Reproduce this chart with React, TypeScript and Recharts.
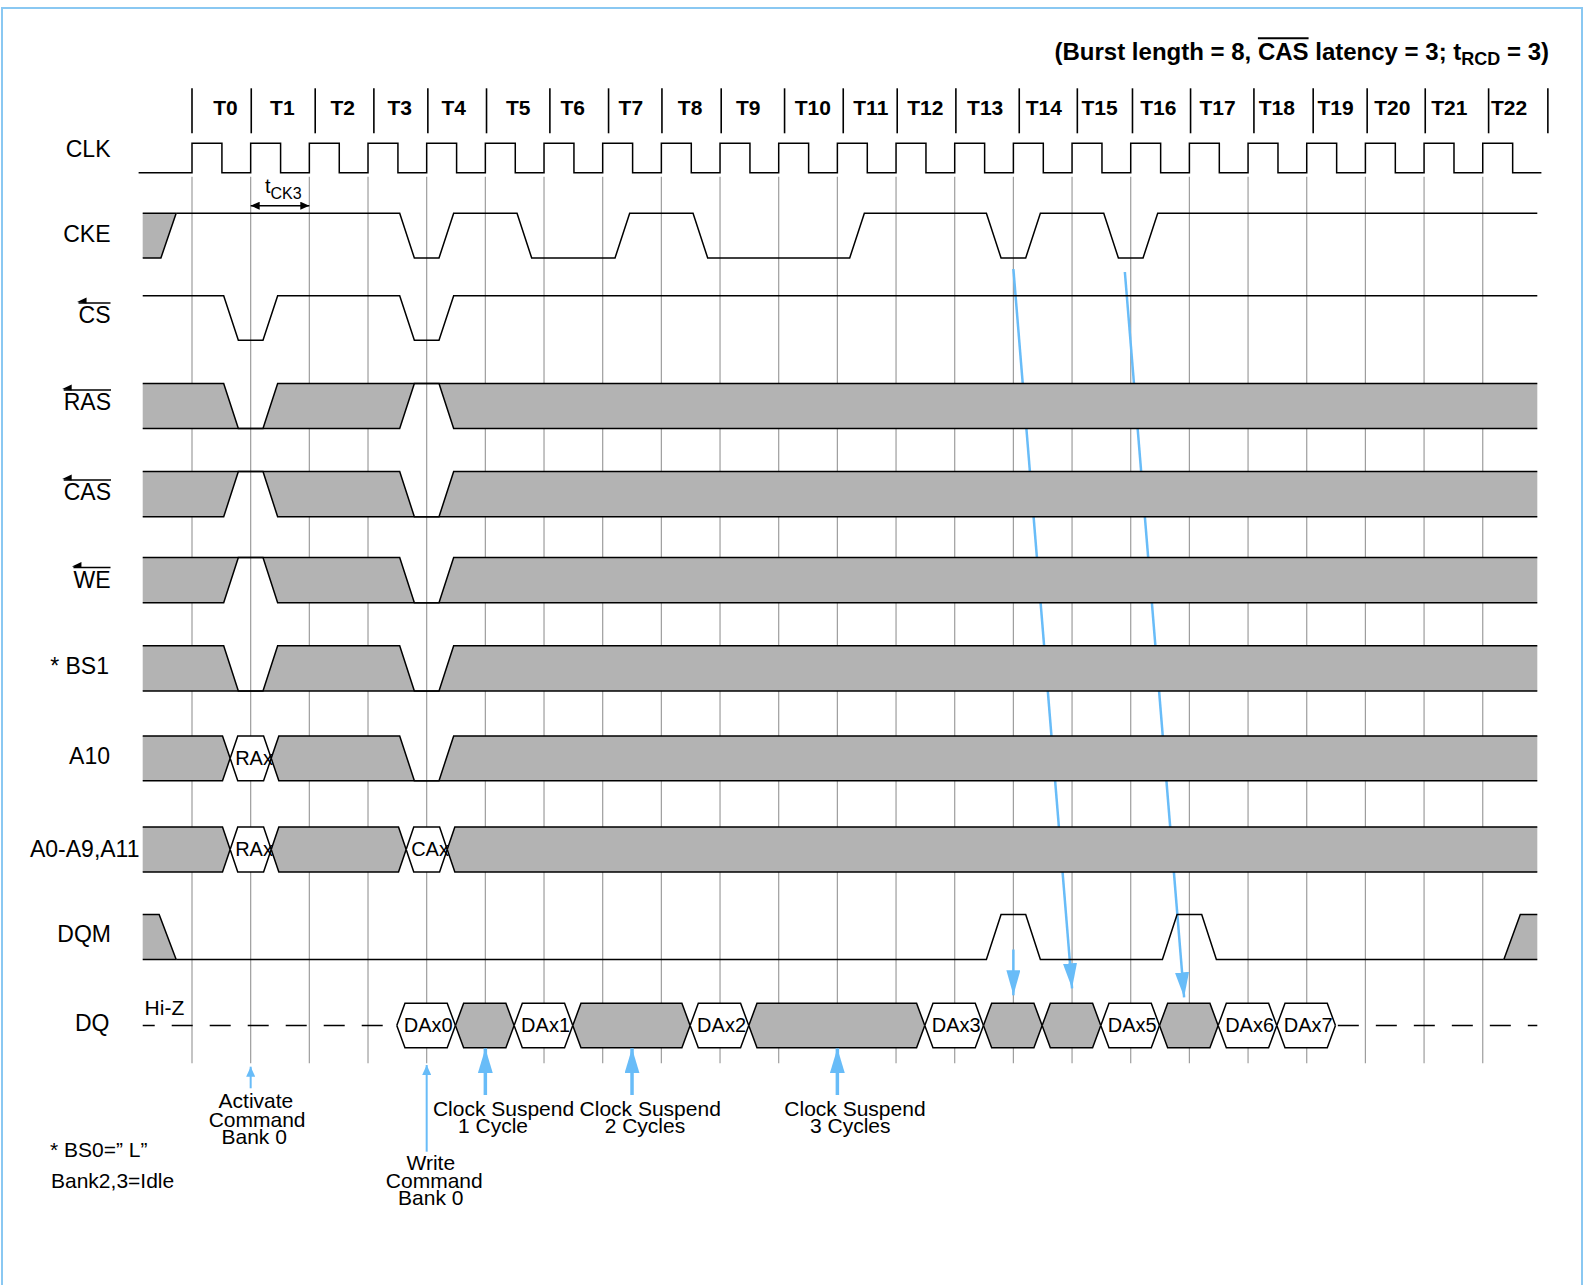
import React from 'react';
import { ComposedChart, XAxis, YAxis, Line, Area, ReferenceDot } from 'recharts';

// ---------------- frame / scale layout ----------------
const W = 1585;
const H = 1285;
const X_ORIGIN = 192; // pixel of the T0 rising edge
const CYCLE_PX = 58.67; // pixels per clock cycle
const T_MIN = -X_ORIGIN / CYCLE_PX;
const T_MAX = (W - X_ORIGIN) / CYCLE_PX;
const tx = (px: number) => (px - X_ORIGIN) / CYCLE_PX;

const FONT = "'Liberation Sans', Arial, Helvetica, sans-serif";
const INK = '#000000';
const GRAY_FILL = '#b3b3b3';
const GRID = '#9d9d9d';
const BLUE = '#68bcf8';
const FRAME = '#8ac8f2';

// ---------------- data ----------------
const cycleLabels = ['T0', 'T1', 'T2', 'T3', 'T4', 'T5', 'T6', 'T7', 'T8', 'T9', 'T10', 'T11',
  'T12', 'T13', 'T14', 'T15', 'T16', 'T17', 'T18', 'T19', 'T20', 'T21', 'T22'];
const cycleLabelT = [0.57, 1.54, 2.57, 3.54, 4.46, 5.56, 6.49, 7.48, 8.49, 9.48, 10.58, 11.57,
  12.5, 13.52, 14.52, 15.47, 16.47, 17.48, 18.49, 19.49, 20.46, 21.43, 22.45];
const headerTicks = [0, 1.01, 2.1, 3.1, 4.02, 5.02, 6.1, 7.1, 8.01, 9.02, 10.1, 11.1, 12.02,
  13.02, 14.1, 15.09, 16.03, 17.02, 18.1, 19.11, 20.03, 21.02, 22.1, 23.11];
const clkRise = [0, 1, 2, 3, 4, 5, 6, 7, 8, 9, 10, 11, 12, 13, 14, 15, 16, 17, 18, 19, 20, 21, 22];
const gridEdges = [0, 1, 2, 3, 4, 5, 6, 7, 8, 9, 10, 11, 12, 13, 14, 15, 16, 17, 18, 19, 20, 21, 22];

const rowLabels = ['CLK', 'CKE', 'CS', 'RAS', 'CAS', 'WE', '* BS1', 'A10', 'A0-A9,A11', 'DQM', 'DQ'];
const activeLowRows = ['CS', 'RAS', 'CAS', 'WE'];

type P2 = [number, number]; // [time in cycles, logic level]
type P3 = [number, number, number]; // [time, lower level, upper level]

const ckeLead: P3[] = [[-0.84, 0, 1], [-0.53, 0, 1], [-0.27, 1, 1]];
const ckeWave: P2[] = [[-0.27, 1], [3.54, 1], [3.79, 0], [4.21, 0], [4.46, 1], [5.54, 1], [5.79, 0],
  [7.21, 0], [7.46, 1], [8.54, 1], [8.79, 0], [11.21, 0], [11.46, 1], [13.54, 1], [13.79, 0],
  [14.21, 0], [14.46, 1], [15.54, 1], [15.79, 0], [16.21, 0], [16.46, 1], [22.93, 1]];
const csWave: P2[] = [[-0.84, 1], [0.54, 1], [0.79, 0], [1.21, 0], [1.46, 1], [3.54, 1], [3.79, 0],
  [4.21, 0], [4.46, 1], [22.93, 1]];
const rasBus: P3[] = [[-0.84, 0, 1], [0.54, 0, 1], [0.79, 0, 0], [1.21, 0, 0], [1.46, 0, 1],
  [3.54, 0, 1], [3.79, 1, 1], [4.21, 1, 1], [4.46, 0, 1], [22.93, 0, 1]];
const casBus: P3[] = [[-0.84, 0, 1], [0.54, 0, 1], [0.79, 1, 1], [1.21, 1, 1], [1.46, 0, 1],
  [3.54, 0, 1], [3.79, 0, 0], [4.21, 0, 0], [4.46, 0, 1], [22.93, 0, 1]];
const weBus: P3[] = [[-0.84, 0, 1], [0.54, 0, 1], [0.79, 1, 1], [1.21, 1, 1], [1.46, 0, 1],
  [3.54, 0, 1], [3.79, 0, 0], [4.21, 0, 0], [4.46, 0, 1], [22.93, 0, 1]];
const bs1Bus: P3[] = [[-0.84, 0, 1], [0.54, 0, 1], [0.79, 0, 0], [1.21, 0, 0], [1.46, 0, 1],
  [3.54, 0, 1], [3.79, 0, 0], [4.21, 0, 0], [4.46, 0, 1], [22.93, 0, 1]];

type Shape = { pts: P3[]; label?: string };
const a10Shapes: Shape[] = [
  { pts: [[-0.84, 0, 1], [0.52, 0, 1], [0.65, 0.5, 0.5]] },
  { pts: [[0.65, 0.5, 0.5], [0.78, 0, 1], [1.22, 0, 1], [1.35, 0.5, 0.5]], label: 'RAx' },
  { pts: [[1.35, 0.5, 0.5], [1.48, 0, 1], [3.54, 0, 1], [3.79, 0, 0], [4.21, 0, 0], [4.46, 0, 1], [22.93, 0, 1]] },
];
const a0Shapes: Shape[] = [
  { pts: [[-0.84, 0, 1], [0.52, 0, 1], [0.65, 0.5, 0.5]] },
  { pts: [[0.65, 0.5, 0.5], [0.78, 0, 1], [1.22, 0, 1], [1.35, 0.5, 0.5]], label: 'RAx' },
  { pts: [[1.35, 0.5, 0.5], [1.48, 0, 1], [3.52, 0, 1], [3.65, 0.5, 0.5]] },
  { pts: [[3.65, 0.5, 0.5], [3.78, 0, 1], [4.22, 0, 1], [4.35, 0.5, 0.5]], label: 'CAx' },
  { pts: [[4.35, 0.5, 0.5], [4.48, 0, 1], [22.93, 0, 1]] },
];
const dqmLead: P3[] = [[-0.84, 0, 1], [-0.56, 0, 1], [-0.27, 0, 0]];
const dqmWave: P2[] = [[-0.27, 0], [13.54, 0], [13.79, 1], [14.21, 1], [14.46, 0], [16.54, 0],
  [16.79, 1], [17.21, 1], [17.46, 0], [22.36, 0]];
const dqmTail: P3[] = [[22.36, 0, 0], [22.64, 0, 1], [22.93, 0, 1]];

const dqCells = [
  { from: 3.49, to: 4.49, label: 'DAx0' },
  { from: 4.49, to: 5.49, label: '' },
  { from: 5.49, to: 6.49, label: 'DAx1' },
  { from: 6.49, to: 8.49, label: '' },
  { from: 8.49, to: 9.49, label: 'DAx2' },
  { from: 9.49, to: 12.49, label: '' },
  { from: 12.49, to: 13.49, label: 'DAx3' },
  { from: 13.49, to: 14.49, label: '' },
  { from: 14.49, to: 15.49, label: '' },
  { from: 15.49, to: 16.49, label: 'DAx5' },
  { from: 16.49, to: 17.49, label: '' },
  { from: 17.49, to: 18.49, label: 'DAx6' },
  { from: 18.49, to: 19.49, label: 'DAx7' },
];
const hiZSpans: [number, number][] = [[-0.84, 3.49], [19.53, 22.93]];

// CKE low sample -> suspended DQ slot ; DQM high -> masked slot
const suspendLinks = [{ from: 14.0, to: 15.0 }, { from: 15.9, to: 16.91 }];
const maskLinkT = 14.0;

const commandArrowT = [1, 4];
const suspendArrowT = [5, 7.5, 11];
const notes = [
  { lines: ['Activate', 'Command', 'Bank 0'], centers: [1.09, 1.11, 1.06] },
  { lines: ['Write', 'Command', 'Bank 0'], centers: [4.07, 4.13, 4.07] },
  { lines: ['Clock Suspend', '1 Cycle'], centers: [5.31, 5.13] },
  { lines: ['Clock Suspend', '2 Cycles'], centers: [7.81, 7.72] },
  { lines: ['Clock Suspend', '3 Cycles'], centers: [11.3, 11.22] },
];

// ---------------- row layout (pixels) ----------------
const ROW: Record<string, { top: number; bot: number }> = {
  CLK: { top: 143.3, bot: 172.7 },
  CKE: { top: 213.3, bot: 258 },
  CS: { top: 295.8, bot: 340.3 },
  RAS: { top: 383.5, bot: 428.5 },
  CAS: { top: 471.5, bot: 516.8 },
  WE: { top: 557.5, bot: 602.8 },
  BS1: { top: 645.7, bot: 691 },
  A10: { top: 736, bot: 780.7 },
  A0: { top: 827, bot: 872 },
  DQM: { top: 914.5, bot: 959.5 },
  DQ: { top: 1003.3, bot: 1047.8 },
};
const ROW_LABEL_BASE = [156.5, 241.5, 323, 410, 500, 587.5, 674, 764, 856.5, 942, 1031];
const ROW_LABEL_RIGHT = [110.5, 110.5, 110.5, 111, 111, 110.5, 109, 110, 139.5, 111, 109.5];
const GRID_TOP = 176.7;
const GRID_BOT = 1063.3;
const HDR_TOP = 88.3;
const HDR_BOT = 133.3;
const CLK_START = -0.91;
const CLK_END = 23.0;
const CLK_HIGH = 0.51;
const HEX_SLOPE = 0.14;

const lvl = (row: string, l: number) => ROW[row].bot - l * (ROW[row].bot - ROW[row].top);
const lineData = (row: string, pts: P2[]) => pts.map(([t, l]) => ({ t, y: lvl(row, l) }));
const areaData = (row: string, pts: P3[]) => pts.map(([t, a, b]) => ({ t, r: [lvl(row, a), lvl(row, b)] }));
const hexPts = (a: number, b: number): P3[] => [[a, 0.5, 0.5], [a + HEX_SLOPE, 0, 1], [b - HEX_SLOPE, 0, 1], [b, 0.5, 0.5]];

let ctx: CanvasRenderingContext2D | null = null;
const measure = (text: string, font: string) => {
  if (!ctx) ctx = document.createElement('canvas').getContext('2d');
  if (!ctx) return text.length * 12;
  ctx.font = font;
  return ctx.measureText(text).width;
};

type WOpts = { stroke?: string; width?: number; z?: number; dash?: string; dashOffset?: number; markerEnd?: string; markerStart?: string };
const wave = (key: string, data: any[], o: WOpts = {}) => (
  <Line
    key={key}
    data={data}
    dataKey="y"
    type="linear"
    stroke={o.stroke ?? INK}
    strokeWidth={o.width ?? 1.5}
    strokeDasharray={o.dash}
    strokeDashoffset={o.dashOffset}
    markerEnd={o.markerEnd}
    markerStart={o.markerStart}
    dot={false}
    activeDot={false}
    isAnimationActive={false}
    legendType="none"
    zIndex={o.z ?? 70}
  />
);
const band = (key: string, data: any[], fill: string) => (
  <Area
    key={key}
    data={data}
    dataKey="r"
    type="linear"
    fill={fill}
    fillOpacity={1}
    stroke={INK}
    strokeWidth={1.5}
    dot={false}
    activeDot={false}
    isAnimationActive={false}
    legendType="none"
    zIndex={80}
  />
);
const textAt = (key: string, t: number, y: number, render: (cx: number, cy: number) => React.ReactElement) => (
  <ReferenceDot
    key={key}
    x={t}
    y={y}
    r={0}
    fill="none"
    stroke="none"
    ifOverflow="visible"
    zIndex={3000}
    shape={(p: any) => render(p.cx, p.cy)}
  />
);

export default function App() {
  const els: React.ReactNode[] = [];

  // grid lines at rising edges
  gridEdges.forEach((k, i) => els.push(wave(`grid${i}`, [{ t: k, y: GRID_TOP }, { t: k, y: GRID_BOT }], { stroke: GRID, width: 1.2, z: 50 })));
  // header separators
  headerTicks.forEach((k, i) => els.push(wave(`hdr${i}`, [{ t: k, y: HDR_TOP }, { t: k, y: HDR_BOT }], { width: 1.6, z: 50 })));

  // blue suspend links (behind bands)
  suspendLinks.forEach((s, i) => els.push(wave(`link${i}`, [
    { t: s.from, y: ROW.CKE.bot + (i === 0 ? 11 : 14) },
    { t: s.to, y: ROW.DQ.top - (i === 0 ? 15 : 6) },
  ], { stroke: BLUE, width: 2.5, z: 60, markerEnd: 'url(#mkBlue)' })));
  els.push(wave('mask', [{ t: maskLinkT, y: ROW.DQM.bot - 10 }, { t: maskLinkT, y: ROW.DQ.top - 8 }],
    { stroke: BLUE, width: 2.5, z: 60, markerEnd: 'url(#mkBlue)' }));

  // CLK
  const clk: any[] = [{ t: CLK_START, y: lvl('CLK', 0) }];
  clkRise.forEach((k) => {
    clk.push({ t: k, y: lvl('CLK', 0) }, { t: k, y: lvl('CLK', 1) }, { t: k + CLK_HIGH, y: lvl('CLK', 1) }, { t: k + CLK_HIGH, y: lvl('CLK', 0) });
  });
  clk.push({ t: CLK_END, y: lvl('CLK', 0) });
  els.push(wave('clk', clk));

  // single-line signals
  els.push(wave('cke', lineData('CKE', ckeWave)));
  els.push(wave('cs', lineData('CS', csWave)));
  els.push(wave('dqm', lineData('DQM', dqmWave)));
  hiZSpans.forEach((s, i) => els.push(wave(`hiz${i}`, [{ t: s[0], y: lvl('DQ', 0.5) }, { t: s[1], y: lvl('DQ', 0.5) }],
    { dash: '21 17', dashOffset: i === 0 ? 9 : 0 })));

  // bands
  els.push(band('ckeLead', areaData('CKE', ckeLead), GRAY_FILL));
  els.push(band('ras', areaData('RAS', rasBus), GRAY_FILL));
  els.push(band('cas', areaData('CAS', casBus), GRAY_FILL));
  els.push(band('we', areaData('WE', weBus), GRAY_FILL));
  els.push(band('bs1', areaData('BS1', bs1Bus), GRAY_FILL));
  a10Shapes.forEach((s, i) => els.push(band(`a10_${i}`, areaData('A10', s.pts), s.label ? '#ffffff' : GRAY_FILL)));
  a0Shapes.forEach((s, i) => els.push(band(`a0_${i}`, areaData('A0', s.pts), s.label ? '#ffffff' : GRAY_FILL)));
  els.push(band('dqmLead', areaData('DQM', dqmLead), GRAY_FILL));
  els.push(band('dqmTail', areaData('DQM', dqmTail), GRAY_FILL));
  dqCells.forEach((c, i) => els.push(band(`dq${i}`, areaData('DQ', hexPts(c.from, c.to)), c.label ? '#ffffff' : GRAY_FILL)));

  // ---------- texts ----------
  const titleFont = `bold 24px ${FONT}`;
  const subFont = `bold 18px ${FONT}`;
  const titleEnd = 1549;
  const wAfter = measure(' latency = 3; t', titleFont) + measure('RCD', subFont) + measure(' = 3)', titleFont);
  const wCas = measure('CAS', titleFont);
  els.push(textAt('title', tx(titleEnd), 59.8, (cx, cy) => (
    <g>
      <text x={cx} y={cy} textAnchor="end" fontFamily={FONT} fontSize={24} fontWeight="bold" fill={INK}>
        (Burst length = 8, CAS latency = 3; t
        <tspan fontSize={18} dy={5}>RCD</tspan>
        <tspan dy={-5}> = 3)</tspan>
      </text>
      <line x1={cx - wAfter - wCas} x2={cx - wAfter} y1={cy - 21.5} y2={cy - 21.5} stroke={INK} strokeWidth={2} />
    </g>
  )));

  cycleLabels.forEach((lab, i) => els.push(textAt(`cl${i}`, cycleLabelT[i], 114.8, (cx, cy) => (
    <text x={cx} y={cy} textAnchor="middle" fontFamily={FONT} fontSize={21} fontWeight="bold" fill={INK}>{lab}</text>
  ))));

  rowLabels.forEach((lab, i) => els.push(textAt(`rl${i}`, tx(ROW_LABEL_RIGHT[i]), ROW_LABEL_BASE[i], (cx, cy) => {
    const over = activeLowRows.includes(lab);
    const w = measure(lab, `23px ${FONT}`);
    const oy = cy - 20;
    return (
      <g>
        <text x={cx} y={cy} textAnchor="end" fontFamily={FONT} fontSize={23} fill={INK}>{lab}</text>
        {over && <line x1={cx - w} x2={cx} y1={oy} y2={oy} stroke={INK} strokeWidth={1.4} />}
        {over && <path d={`M${cx - w - 1.5},${oy - 1} L${cx - w + 8},${oy - 5.5} L${cx - w + 8},${oy + 0.5} Z`} fill={INK} />}
      </g>
    );
  })));

  // tCK3
  els.push(textAt('tck', tx(265), 193, (cx, cy) => (
    <text x={cx} y={cy} fontFamily={FONT} fontSize={20} fill={INK}>t<tspan fontSize={16} dy={5.5}>CK3</tspan></text>
  )));
  els.push(wave('tckArrow', [{ t: 1, y: 205.7 }, { t: 2, y: 205.7 }], { width: 1.5, z: 3100, markerEnd: 'url(#mkBlack)', markerStart: 'url(#mkBlack)' }));

  // bus labels
  a10Shapes.forEach((s, i) => s.label && els.push(textAt(`a10t${i}`, s.pts[0][0], lvl('A10', 0.5), (cx, cy) => (
    <text x={cx + 5} y={cy + 6.5} fontFamily={FONT} fontSize={20} fill={INK}>{s.label}</text>
  ))));
  a0Shapes.forEach((s, i) => s.label && els.push(textAt(`a0t${i}`, s.pts[0][0], lvl('A0', 0.5), (cx, cy) => (
    <text x={cx + 5} y={cy + 6.5} fontFamily={FONT} fontSize={20} fill={INK}>{s.label}</text>
  ))));
  dqCells.forEach((c, i) => c.label && els.push(textAt(`dqt${i}`, c.from, lvl('DQ', 0.5), (cx, cy) => (
    <text x={cx + 7} y={cy + 6} fontFamily={FONT} fontSize={20} fill={INK}>{c.label}</text>
  ))));
  els.push(textAt('hiz', tx(144.6), 1014.8, (cx, cy) => (
    <text x={cx} y={cy} fontFamily={FONT} fontSize={21} fill={INK}>Hi-Z</text>
  )));

  // notes under the diagram
  const noteBase = [[1108.2, 1126.5, 1143.5], [1170.2, 1188.2, 1204.8], [1115.8, 1133.2], [1115.8, 1133.2], [1115.8, 1133.2]];
  notes.forEach((n, i) => n.lines.forEach((ln, j) => els.push(textAt(`n${i}_${j}`, n.centers[j], noteBase[i][j], (cx, cy) => (
    <text x={cx} y={cy} textAnchor="middle" fontFamily={FONT} fontSize={21} fill={INK}>{ln}</text>
  )))));
  els.push(textAt('bs0', tx(50), 1157, (cx, cy) => (
    <text x={cx} y={cy} fontFamily={FONT} fontSize={21} fill={INK}>* BS0=” L”</text>
  )));
  els.push(textAt('idle', tx(51), 1188.2, (cx, cy) => (
    <text x={cx} y={cy} fontFamily={FONT} fontSize={21} fill={INK}>Bank2,3=Idle</text>
  )));

  // annotation arrows
  commandArrowT.forEach((t, i) => els.push(wave(`cmdA${i}`, [{ t, y: i === 0 ? 1088.3 : 1151.7 }, { t, y: i === 0 ? 1066.7 : 1065 }],
    { stroke: BLUE, width: 2, z: 3100, markerEnd: 'url(#mkBlueSmall)' })));
  suspendArrowT.forEach((t, i) => els.push(wave(`susA${i}`, [{ t, y: 1095 }, { t, y: 1048.3 }],
    { stroke: BLUE, width: 3.5, z: 3100, markerEnd: 'url(#mkBlueWide)' })));

  return (
    <div style={{ position: 'absolute', left: 0, top: 0, width: W, height: H, overflow: 'hidden', background: '#ffffff' }}>
      <svg width={0} height={0} style={{ position: 'absolute' }}>
        <defs>
          <marker id="mkBlue" markerUnits="userSpaceOnUse" markerWidth={26} markerHeight={14} refX={25} refY={7} orient="auto">
            <path d="M0,0 L25,7 L0,14 Z" fill={BLUE} />
          </marker>
          <marker id="mkBlueWide" markerUnits="userSpaceOnUse" markerWidth={26} markerHeight={15} refX={25} refY={7.5} orient="auto">
            <path d="M0,0 L25,7.5 L0,15 Z" fill={BLUE} />
          </marker>
          <marker id="mkBlueSmall" markerUnits="userSpaceOnUse" markerWidth={11} markerHeight={9} refX={10} refY={4.5} orient="auto">
            <path d="M0,0 L10,4.5 L0,9 Z" fill={BLUE} />
          </marker>
          <marker id="mkBlack" markerUnits="userSpaceOnUse" markerWidth={10} markerHeight={8} refX={9} refY={4} orient="auto-start-reverse">
            <path d="M0,0 L9,4 L0,8 Z" fill={INK} />
          </marker>
        </defs>
      </svg>
      <div style={{ position: 'absolute', left: 1, top: 7, width: 1578, height: 1320, border: `2px solid ${FRAME}` }} />
      <div style={{ position: 'absolute', left: 0, top: 0 }}>
        <ComposedChart width={W} height={H} margin={{ top: 0, right: 0, bottom: 0, left: 0 }}>
          <XAxis type="number" dataKey="t" domain={[T_MIN, T_MAX]} allowDataOverflow hide height={0} />
          <YAxis type="number" domain={[0, H]} reversed allowDataOverflow hide width={0} />
          {els}
        </ComposedChart>
      </div>
    </div>
  );
}
